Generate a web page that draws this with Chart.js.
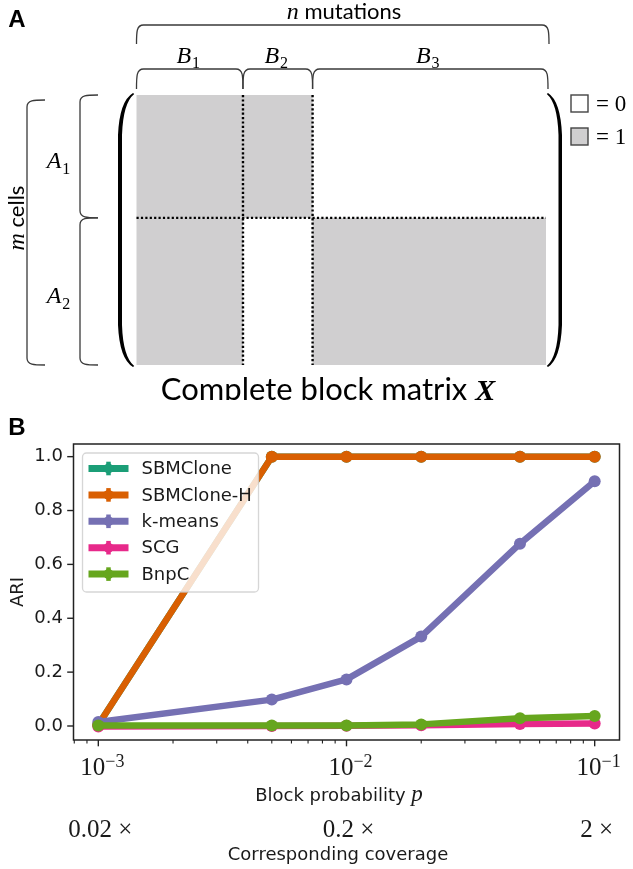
<!DOCTYPE html>
<html>
<head>
<meta charset="utf-8">
<script src="https://cdn.jsdelivr.net/npm/chart.js@4.4.0/dist/chart.umd.min.js"></script>
<style>
  html, body { margin: 0; padding: 0; background: #fff; overflow: hidden; }
  #wrap { position: relative; width: 633px; height: 869px; }
  #matrix-chart { position: absolute; left: 0; top: 0; }
  #ari-chart { position: absolute; left: 0; top: 400px; }
</style>
</head>
<body>
<div id="wrap">
  <canvas id="matrix-chart" width="633" height="400"></canvas>
  <canvas id="ari-chart" width="633" height="469"></canvas>
</div>
<script>
// panel A: block structure of the complete matrix
const colBlocks = ["B", "B", "B"];
const colSizes = [26, 17, 57];
const rowBlocks = ["A", "A"];
const rowSizes = [45.5, 54.5];
const blockValues = [
  [1, 1, 0],
  [1, 0, 1],
];

// panel B: ARI vs block probability
const blockProb = [0.001, 0.005, 0.01, 0.02, 0.05, 0.1];
const methods = ["SBMClone", "SBMClone-H", "k-means", "SCG", "BnpC"];
const ariSBMClone = [0.005, 1.0, 1.0, 1.0, 1.0, 1.0];
const ariSBMCloneH = [0.005, 1.0, 1.0, 1.0, 1.0, 1.0];
const ariKMeans = [0.015, 0.098, 0.173, 0.332, 0.677, 0.909];
const ariSCG = [-0.002, 0.0, 0.001, 0.003, 0.007, 0.009];
const ariBnpC = [0.002, 0.002, 0.002, 0.006, 0.029, 0.037];
const methodColors = ["#1b9e77", "#d95f02", "#7570b3", "#e7298a", "#66a61e"];
const pTicks = [1e-3, 1e-2, 1e-1];
const pTickExp = ["\u22123", "\u22122", "\u22121"];
const coverageLabels = ["0.02 \u00d7", "0.2 \u00d7", "2 \u00d7"];
const ariTicks = [0, 0.2, 0.4, 0.6, 0.8, 1.0];

const SERIF = '"Liberation Serif", "DejaVu Serif", serif';
const SANS_A = 'Lato, "Open Sans", sans-serif';
const SANS_B = '"DejaVu Sans", sans-serif';
const GRAY = "#d0cfd0";
const INK = "#1a1a1a";

function edges(sizes) {
  const e = [0];
  let acc = 0;
  sizes.forEach((s) => { acc += s; e.push(acc); });
  return e;
}

// italic letter with a subscript, centred on cx
function letterSub(ctx, main, sub, cx, base, size) {
  ctx.font = "italic " + size + "px " + SERIF;
  const w1 = ctx.measureText(main).width;
  ctx.font = Math.round(size * 0.68) + "px " + SERIF;
  const w2 = ctx.measureText(sub).width;
  const x0 = cx - (w1 + w2) / 2;
  ctx.textAlign = "left";
  ctx.textBaseline = "alphabetic";
  ctx.font = "italic " + size + "px " + SERIF;
  ctx.fillText(main, x0, base);
  ctx.font = Math.round(size * 0.68) + "px " + SERIF;
  ctx.fillText(sub, x0 + w1 + 1, base + size * 0.22);
}

// mixed runs of text centred on cx
function runs(ctx, parts, cx, base) {
  let total = 0;
  parts.forEach((p) => { ctx.font = p.font; p.w = ctx.measureText(p.text).width; total += p.w; });
  let x = cx - total / 2;
  ctx.textAlign = "left";
  ctx.textBaseline = "alphabetic";
  parts.forEach((p) => { ctx.font = p.font; ctx.fillText(p.text, x, base + (p.dy || 0)); x += p.w; });
}

function hBrace(ctx, x1, x2, yTop, yEnd) {
  const r = 7;
  ctx.beginPath();
  ctx.moveTo(x1, yEnd);
  ctx.bezierCurveTo(x1, yTop + r, x1, yTop, x1 + r, yTop);
  ctx.lineTo(x2 - r, yTop);
  ctx.bezierCurveTo(x2, yTop, x2, yTop + r, x2, yEnd);
  ctx.stroke();
}

function vBrace(ctx, xLine, xEnd, y1, y2) {
  const r = 7;
  ctx.beginPath();
  ctx.moveTo(xEnd, y1);
  ctx.bezierCurveTo(xLine + r, y1, xLine, y1, xLine, y1 + r);
  ctx.lineTo(xLine, y2 - r);
  ctx.bezierCurveTo(xLine, y2, xLine + r, y2, xEnd, y2);
  ctx.stroke();
}

// tall parenthesis as a filled crescent; dir = -1 opens right, +1 opens left
function paren(ctx, x0, top, bottom, dir, outer, inner) {
  const c = 42;
  ctx.beginPath();
  ctx.moveTo(x0, top);
  ctx.quadraticCurveTo(x0 + dir * outer * 0.9, top + 8, x0 + dir * outer, top + c);
  ctx.lineTo(x0 + dir * outer, bottom - c);
  ctx.quadraticCurveTo(x0 + dir * outer * 0.9, bottom - 8, x0, bottom);
  ctx.lineTo(x0 - dir * 1.2, bottom - 1);
  ctx.quadraticCurveTo(x0 + dir * inner * 0.9, bottom - 10, x0 + dir * inner, bottom - c);
  ctx.lineTo(x0 + dir * inner, top + c);
  ctx.quadraticCurveTo(x0 + dir * inner * 0.9, top + 10, x0 - dir * 1.2, top + 1);
  ctx.closePath();
  ctx.fill();
}

const matrixPlugin = {
  id: "matrixDiagram",
  afterDraw(chart) {
    const { ctx, scales: { x, y }, chartArea: a } = chart;
    const ce = edges(colSizes);
    const re = edges(rowSizes);
    ctx.save();

    blockValues.forEach((row, i) => row.forEach((v, j) => {
      if (!v) return;
      const x0 = x.getPixelForValue(ce[j]);
      const x1 = x.getPixelForValue(ce[j + 1]);
      const y0 = y.getPixelForValue(re[i]);
      const y1 = y.getPixelForValue(re[i + 1]);
      ctx.fillStyle = GRAY;
      ctx.fillRect(x0, y0, x1 - x0, y1 - y0);
    }));

    // dotted block separators
    ctx.strokeStyle = "#000";
    ctx.lineWidth = 2.4;
    ctx.setLineDash([2.2, 2.2]);
    for (let j = 1; j < ce.length - 1; j++) {
      const px = x.getPixelForValue(ce[j]);
      ctx.beginPath(); ctx.moveTo(px, a.top); ctx.lineTo(px, a.bottom); ctx.stroke();
    }
    for (let i = 1; i < re.length - 1; i++) {
      const py = y.getPixelForValue(re[i]);
      ctx.beginPath(); ctx.moveTo(a.left, py); ctx.lineTo(a.right, py); ctx.stroke();
    }
    ctx.setLineDash([]);

    // matrix parentheses
    ctx.fillStyle = "#000";
    paren(ctx, a.left - 3.5, a.top - 2, a.bottom + 2, -1, 15, 11);
    paren(ctx, a.right + 2, a.top - 2, a.bottom + 2, 1, 14, 10.5);

    // braces
    ctx.strokeStyle = "#3a3a3a";
    ctx.lineWidth = 1.3;
    hBrace(ctx, a.left, a.right + 3, 25, 44);
    for (let j = 0; j < colSizes.length; j++) {
      const x0 = x.getPixelForValue(ce[j]);
      const x1 = j === colSizes.length - 1 ? a.right + 2 : x.getPixelForValue(ce[j + 1]);
      hBrace(ctx, x0, x1, 69, 89);
    }
    vBrace(ctx, 27, 45, a.top + 5, a.bottom);
    for (let i = 0; i < rowSizes.length; i++) {
      vBrace(ctx, 80, 98, y.getPixelForValue(re[i]), y.getPixelForValue(re[i + 1]));
    }

    // labels
    ctx.fillStyle = "#000";
    runs(ctx, [
      { text: "n", font: "italic 24px " + SERIF },
      { text: " mutations", font: "22px " + SANS_A },
    ], 344, 19);
    for (let j = 0; j < colSizes.length; j++) {
      const x0 = x.getPixelForValue(ce[j]);
      const x1 = x.getPixelForValue(ce[j + 1]);
      letterSub(ctx, colBlocks[j], String(j + 1), (x0 + x1) / 2 - 2, 63, 24);
    }
    for (let i = 0; i < rowSizes.length; i++) {
      const ym = (y.getPixelForValue(re[i]) + y.getPixelForValue(re[i + 1])) / 2;
      letterSub(ctx, rowBlocks[i], String(i + 1), 58, ym + 12, 24);
    }
    ctx.save();
    ctx.translate(17, 218);
    ctx.rotate(-Math.PI / 2);
    runs(ctx, [
      { text: "m", font: "italic 24px " + SERIF },
      { text: " cells", font: "22px " + SANS_A },
    ], 0, 7);
    ctx.restore();

    // 0/1 key
    ctx.lineWidth = 1.4;
    ctx.strokeStyle = "#444";
    ctx.fillStyle = "#fff";
    ctx.fillRect(571, 95, 17, 17); ctx.strokeRect(571, 95, 17, 17);
    ctx.fillStyle = GRAY;
    ctx.fillRect(571, 128, 17, 17); ctx.strokeRect(571, 128, 17, 17);
    ctx.fillStyle = "#000";
    ctx.font = "23px " + SERIF;
    ctx.textAlign = "left";
    ctx.fillText("= 0", 596, 111);
    ctx.fillText("= 1", 596, 144);

    runs(ctx, [
      { text: "Complete block matrix ", font: "31px " + SANS_A },
      { text: "X", font: "italic bold 30px " + SERIF },
    ], 328, 400);

    ctx.font = "bold 24px \"Liberation Sans\", Arial, sans-serif";
    ctx.textAlign = "center";
    ctx.textBaseline = "middle";
    ctx.fillText("A", 17, 20);
    ctx.restore();
  },
};

new Chart(document.getElementById("matrix-chart"), {
  type: "scatter",
  data: { datasets: [] },
  options: {
    responsive: false,
    animation: false,
    devicePixelRatio: 1,
    layout: { padding: { left: 136.5, right: 87, top: 95, bottom: 35 } },
    plugins: { legend: { display: false }, tooltip: { enabled: false } },
    scales: {
      x: { type: "linear", display: false, min: 0, max: 100 },
      y: { type: "linear", display: false, min: 0, max: 100, reverse: true },
    },
  },
  plugins: [matrixPlugin],
});

// ---------- panel B ----------
const seriesValues = [ariSBMClone, ariSBMCloneH, ariKMeans, ariSCG, ariBnpC];

const ariPlugin = {
  id: "ariDecor",
  afterDatasetsDraw(chart) {
    const { ctx, chartArea: a, scales: { x, y } } = chart;
    ctx.save();

    // frame and ticks
    ctx.strokeStyle = "#222";
    ctx.lineWidth = 1.5;
    ctx.strokeRect(a.left, a.top, a.right - a.left, a.bottom - a.top);
    ctx.lineWidth = 1.4;
    y.ticks.forEach((t) => {
      const py = y.getPixelForValue(t.value);
      ctx.beginPath(); ctx.moveTo(a.left - 6.3, py); ctx.lineTo(a.left, py); ctx.stroke();
    });
    pTicks.forEach((p) => {
      const px = x.getPixelForValue(p);
      ctx.beginPath(); ctx.moveTo(px, a.bottom); ctx.lineTo(px, a.bottom + 6.3); ctx.stroke();
    });
    ctx.lineWidth = 1.1;
    for (let e = -4; e <= -1; e++) {
      for (let k = 2; k <= 9; k++) {
        const v = k * Math.pow(10, e);
        if (v <= x.min || v >= x.max) continue;
        const px = x.getPixelForValue(v);
        ctx.beginPath(); ctx.moveTo(px, a.bottom); ctx.lineTo(px, a.bottom + 3.6); ctx.stroke();
      }
    }

    // legend
    const bx = a.left + 9, by = a.top + 9, bw = 176, bh = 139;
    ctx.beginPath();
    ctx.roundRect(bx, by, bw, bh, 4);
    ctx.fillStyle = "rgba(255,255,255,0.8)";
    ctx.fill();
    ctx.strokeStyle = "rgba(204,204,204,0.8)";
    ctx.lineWidth = 1.3;
    ctx.stroke();
    chart.data.datasets.forEach((ds, i) => {
      const cy = by + 15.5 + i * 26.4;
      const hx0 = bx + 6, hx1 = bx + 46, hm = (hx0 + hx1) / 2;
      ctx.strokeStyle = ds.borderColor;
      ctx.lineWidth = 7;
      ctx.beginPath(); ctx.moveTo(hx0, cy); ctx.lineTo(hx1, cy); ctx.stroke();
      ctx.lineWidth = 4.5;
      ctx.beginPath(); ctx.moveTo(hm, cy - 6.8); ctx.lineTo(hm, cy + 6.8); ctx.stroke();
      ctx.fillStyle = ds.borderColor;
      ctx.beginPath(); ctx.arc(hm, cy, 5, 0, Math.PI * 2); ctx.fill();
      ctx.fillStyle = INK;
      ctx.font = "18px " + SANS_B;
      ctx.textAlign = "left";
      ctx.textBaseline = "middle";
      ctx.fillText(ds.label, bx + 59, cy + 1);
    });

    // x labels
    ctx.fillStyle = INK;
    pTicks.forEach((p, i) => {
      const px = x.getPixelForValue(p);
      runs(ctx, [
        { text: "10", font: "25px " + SERIF },
        { text: pTickExp[i], font: "18px " + SERIF, dy: -8 },
      ], px + 4, 375);
      runs(ctx, [{ text: coverageLabels[i], font: "25px " + SERIF }], px + 2, 436.5);
    });
    runs(ctx, [
      { text: "Block probability ", font: "18px " + SANS_B },
      { text: "p", font: "italic 23px " + SERIF },
    ], 339, 401);
    runs(ctx, [{ text: "Corresponding coverage", font: "18px " + SANS_B }], 338, 460);

    ctx.save();
    ctx.translate(23, (a.top + a.bottom) / 2);
    ctx.rotate(-Math.PI / 2);
    ctx.font = "18px " + SANS_B;
    ctx.textAlign = "center";
    ctx.textBaseline = "alphabetic";
    ctx.fillText("ARI", 0, 0);
    ctx.restore();

    ctx.font = "bold 24px \"Liberation Sans\", Arial, sans-serif";
    ctx.textAlign = "center";
    ctx.textBaseline = "middle";
    ctx.fillStyle = "#000";
    ctx.fillText("B", 17, 28);
    ctx.restore();
  },
};

new Chart(document.getElementById("ari-chart"), {
  type: "line",
  data: {
    datasets: methods.map((name, i) => ({
      label: name,
      data: blockProb.map((p, k) => ({ x: p, y: seriesValues[i][k] })),
      borderColor: methodColors[i],
      backgroundColor: methodColors[i],
      pointBackgroundColor: methodColors[i],
      pointBorderWidth: 0,
      pointRadius: 6,
      borderWidth: 6.5,
      borderJoinStyle: "round",
      tension: 0,
      order: methods.length - i,
    })),
  },
  options: {
    responsive: false,
    animation: false,
    devicePixelRatio: 1,
    layout: { padding: { left: 0, right: 13.5, top: 44, bottom: 0 } },
    plugins: { legend: { display: false }, tooltip: { enabled: false } },
    scales: {
      x: {
        type: "logarithmic",
        min: Math.pow(10, -3.1),
        max: Math.pow(10, -0.9),
        grid: { display: false, drawTicks: false },
        border: { display: false },
        ticks: { display: false },
        afterFit: (s) => { s.height = 129; },
      },
      y: {
        type: "linear",
        min: -0.052,
        max: 1.047,
        grid: { display: false, drawTicks: false },
        border: { display: false },
        ticks: {
          padding: 10.5,
          color: INK,
          font: { family: "DejaVu Sans", size: 18 },
          callback: (v) => v.toFixed(1),
        },
        afterBuildTicks: (s) => { s.ticks = ariTicks.map((v) => ({ value: v })); },
        afterFit: (s) => { s.width = 73.5; },
      },
    },
  },
  plugins: [ariPlugin],
});
</script>
</body>
</html>
